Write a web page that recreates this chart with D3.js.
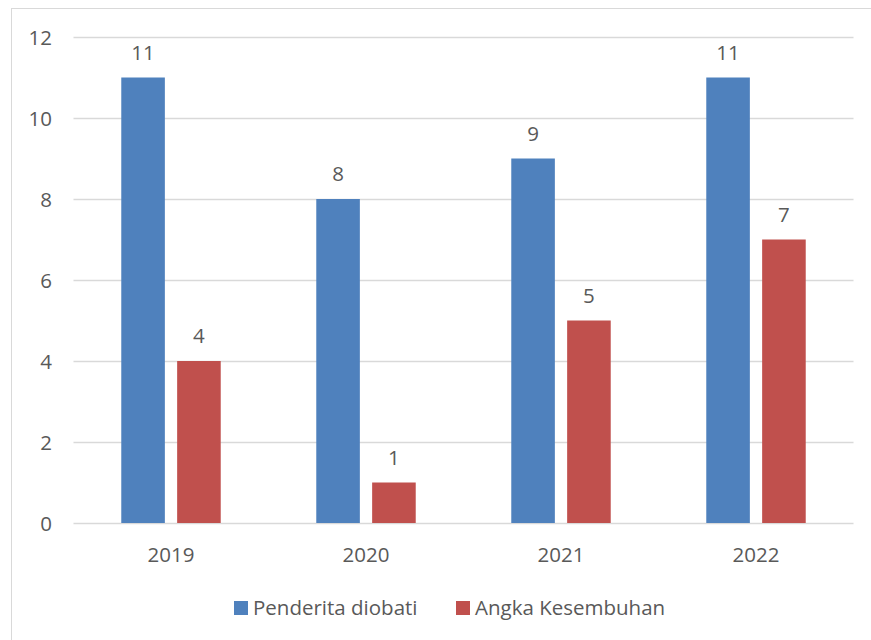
<!DOCTYPE html>
<html>
<head>
<meta charset="utf-8">
<script src="https://cdn.jsdelivr.net/npm/d3@7"></script>
<style>
  html, body { margin: 0; padding: 0; background: #fff; }
  svg { display: block; }
  text { font-family: "Open Sans", "Noto Sans", sans-serif; fill: #595959; }
</style>
</head>
<body>
<svg id="chart" width="871" height="640"></svg>
<script>
const years = ["2019", "2020", "2021", "2022"];
const seriesNames = ["Penderita diobati", "Angka Kesembuhan"];
const penderitaDiobati = [11, 8, 9, 11];
const angkaKesembuhan = [4, 1, 5, 7];
const yTicks = [0, 2, 4, 6, 8, 10, 12];
const colors = ["#4f81bd", "#c0504d"];

const svg = d3.select("#chart");
const W = 871, H = 640;
const FONT = 20.5;

// chart frame
svg.append("rect")
  .attr("x", 11.5).attr("y", 8.5)
  .attr("width", W + 10).attr("height", H + 10)
  .attr("fill", "#fff").attr("stroke", "#d9d9d9").attr("stroke-width", 1);

const plot = { left: 73.5, right: 853.5, top: 37, bottom: 523 };

const x = d3.scaleBand().domain(years)
  .range([plot.left, plot.right])
  .paddingInner(0.49).paddingOuter(0.245);
const xInner = d3.scaleBand().domain(seriesNames)
  .range([0, x.bandwidth()]).paddingInner(0.22);
const y = d3.scaleLinear().domain([0, 12]).range([plot.bottom, plot.top]);

// gridlines
svg.append("g").selectAll("line").data(yTicks).join("line")
  .attr("x1", plot.left).attr("x2", plot.right)
  .attr("y1", d => Math.round(y(d)) + 0.5).attr("y2", d => Math.round(y(d)) + 0.5)
  .attr("stroke", "#d9d9d9").attr("stroke-width", 1.3);

// y axis labels
const yAxis = d3.axisLeft(y).tickValues(yTicks).tickSize(0).tickPadding(0);
const gy = svg.append("g").attr("transform", `translate(52,0)`).call(yAxis);
gy.select(".domain").remove();
gy.selectAll("text").attr("font-size", FONT).attr("fill", "#595959").attr("dy", "0.38em")
  .style("font-family", '"Open Sans", sans-serif');

// x axis labels
const xAxis = d3.axisBottom(x).tickSize(0).tickPadding(0);
const gx = svg.append("g").attr("transform", `translate(0,${plot.bottom + 24})`).call(xAxis);
gx.select(".domain").remove();
gx.selectAll("text").attr("font-size", FONT).attr("fill", "#595959")
  .style("font-family", '"Open Sans", sans-serif');

// bars
const rows = years.map((yr, i) => ({
  year: yr,
  values: [
    { name: seriesNames[0], value: penderitaDiobati[i], color: colors[0] },
    { name: seriesNames[1], value: angkaKesembuhan[i], color: colors[1] }
  ]
}));

const groups = svg.append("g").selectAll("g").data(rows).join("g")
  .attr("transform", d => `translate(${x(d.year)},0)`);

groups.selectAll("rect").data(d => d.values).join("rect")
  .attr("x", d => xInner(d.name))
  .attr("y", d => y(d.value))
  .attr("width", xInner.bandwidth())
  .attr("height", d => y(0) - y(d.value))
  .attr("fill", d => d.color);

// value labels
groups.selectAll("text.val").data(d => d.values).join("text")
  .attr("class", "val")
  .attr("x", d => xInner(d.name) + xInner.bandwidth() / 2)
  .attr("y", d => y(d.value) - 18)
  .attr("text-anchor", "middle")
  .attr("font-size", FONT)
  .attr("fill", "#404040")
  .text(d => d.value);

// legend
const legendItems = [
  { name: seriesNames[0], color: colors[0], x: 234 },
  { name: seriesNames[1], color: colors[1], x: 456 }
];
const lg = svg.append("g").selectAll("g").data(legendItems).join("g")
  .attr("transform", d => `translate(${d.x},601)`);
lg.append("rect").attr("width", 14).attr("height", 14).attr("fill", d => d.color);
lg.append("text").attr("x", 19).attr("y", 14)
  .attr("font-size", FONT).attr("fill", "#595959")
  .text(d => d.name);
</script>
</body>
</html>
